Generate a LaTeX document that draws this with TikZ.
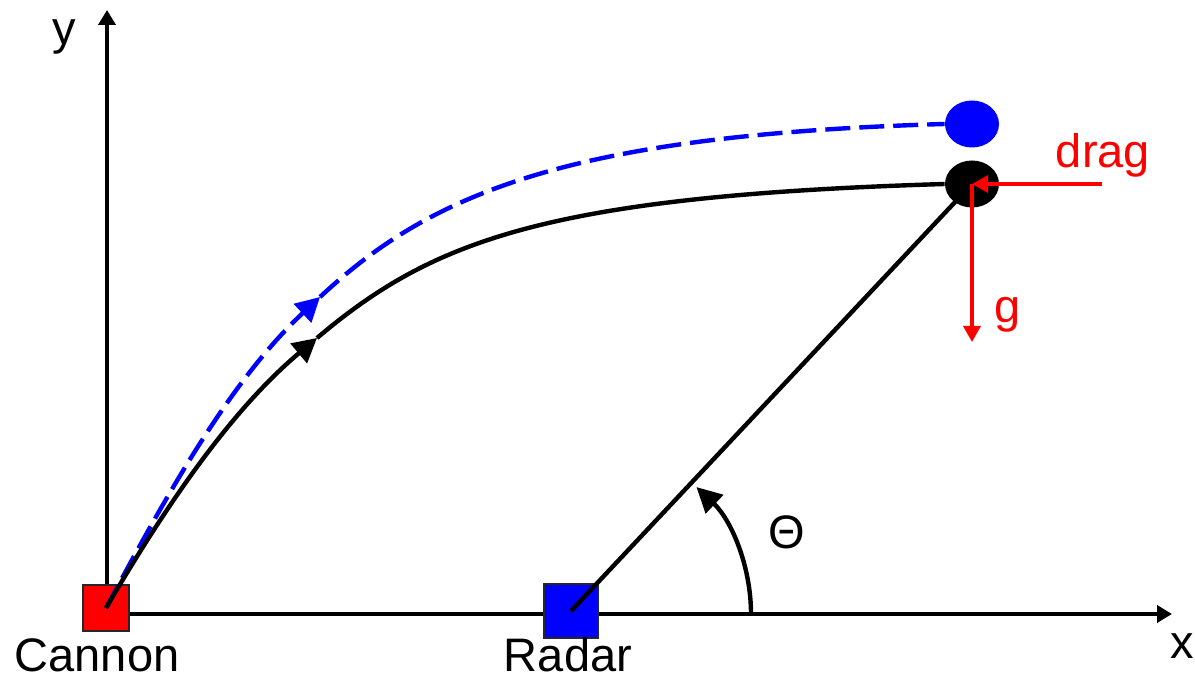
\documentclass[tikz,border=0pt]{standalone}
\usepackage{fontspec}
\setmainfont{Liberation Sans}
\usetikzlibrary{arrows.meta,shapes.geometric}
\begin{document}
\begin{tikzpicture}[x=0.5pt,y=-0.5pt,
  lbl/.style={font=\fontsize{23.5}{28}\selectfont, inner sep=0pt},
  axisline/.style={line width=2.1pt,-{Triangle[width=8.5pt,length=7.5pt]}},
  sqbox/.style={draw=black!85, line width=0.6pt, inner sep=0pt, rectangle},
  ballnode/.style={ellipse, inner sep=0pt, minimum width=27pt, minimum height=23.5pt},
  forcearrow/.style={draw=red, line width=1.7pt, -{Triangle[width=8.5pt,length=8pt]}},
  trajtip/.style={-{Triangle[width=12.5pt,length=12pt]}},
  bluetraj/.style={blue, line width=2.2pt, dash pattern=on 12.5pt off 4.5pt},
  blacktraj/.style={black, line width=2.2pt},
]
\useasboundingbox (0,0) rectangle (1195,679);

% axes
\coordinate (O) at (107,614);
\coordinate (ytip) at (107,10);
\coordinate (xtip) at (1172,614);
\draw[axisline] (O) -- (ytip);
\draw[axisline] (O) -- (xtip);

% squares
\node[sqbox, fill=red, minimum size=23pt] (cannon) at (106,608) {};
\node[sqbox, fill=blue, minimum size=27pt] (radar) at (571,611) {};

% balls (positions)
\node[ballnode] (ball) at (972,184) {};
\node[ballnode] (bball) at (972,124) {};

% arrow points on trajectories
\coordinate (bmid) at (320,297);
\coordinate (kmid) at (317,338);

% blue dashed trajectory
\draw[bluetraj, trajtip] (cannon.center) .. controls (165,498) and (229,382) .. (bmid);
\draw[bluetraj] (bmid) .. controls (429.5,195) and (565,135) .. (bball.west);

% black trajectory
\draw[blacktraj, trajtip] (cannon.center) .. controls (164,509) and (229,412) .. (kmid);
\draw[blacktraj] (kmid) .. controls (432,241) and (545,196) .. (ball.west);

% radar line
\draw[line width=2.2pt] (radar.center) -- (ball.center);

% theta arc
\coordinate (arcstart) at (751,614);
\draw[line width=2.2pt, -{Triangle[width=12.5pt,length=12.5pt]}]
  (arcstart) arc[start angle=0, end angle=-46.5, radius=175];

% balls drawn
\fill[black] (ball.center) ellipse[x radius=27, y radius=23.5];
\fill[blue] (bball.center) ellipse[x radius=27, y radius=23.5];

% forces
\coordinate (dragstart) at (1102,184);
\coordinate (gend) at (972,342);
\draw[forcearrow] (dragstart) -- (ball.center);
\draw[forcearrow] (ball.center) -- (gend);

% labels
\node[lbl] (ylbl) at (64,37) {y};
\node[lbl] (xlbl) at (1182,646) {x};
\node[lbl] (cannonlbl) at (97,655) {Cannon};
\node[lbl] (radarlbl) at (568,655) {Radar};
\node[lbl] (thetalbl) at (787,532) {Θ};
\node[lbl, text=red] (draglbl) at (1103,155) {drag};
\node[lbl, text=red] (glbl) at (1008,315) {g};
\end{tikzpicture}
\end{document}
